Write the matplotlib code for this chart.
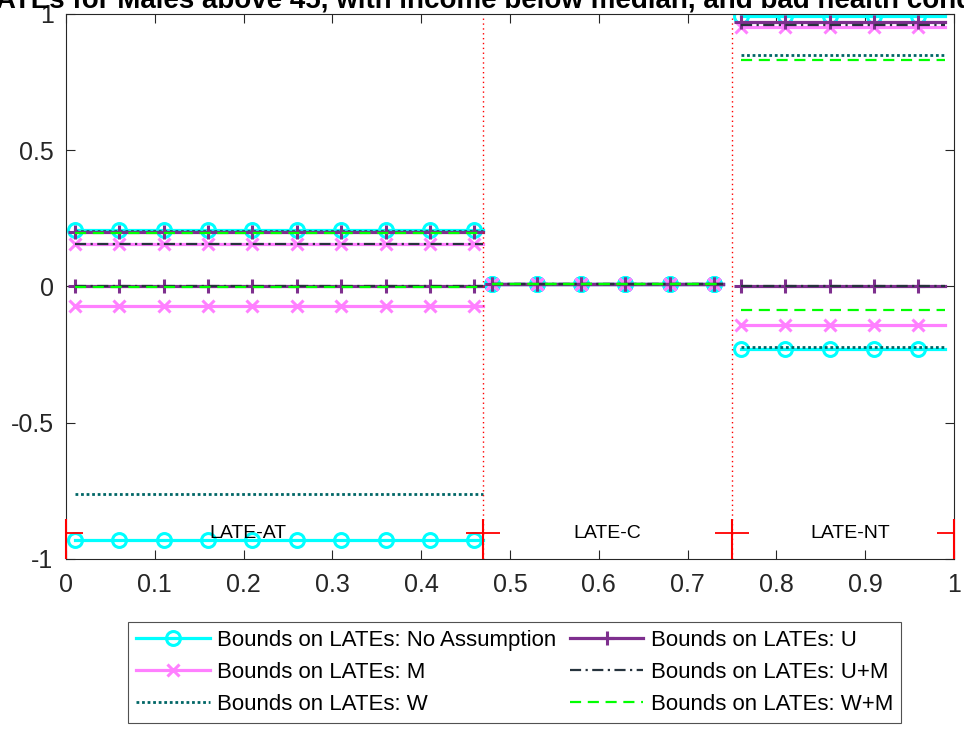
import numpy as np
import matplotlib.pyplot as plt

plt.rcParams['font.family'] = ['Liberation Sans', 'DejaVu Sans']

# regions of the x axis (complier types)
regions = ["LATE-AT", "LATE-C", "LATE-NT"]
reg_start = [0.01, 0.48, 0.76]
reg_end = [0.47, 0.74, 0.99]
label_x = [0.205, 0.61, 0.883]
dividers = [0.0, 0.47, 0.75, 1.0]

# lower / upper bounds per region (AT, C, NT)
noassump_lo = [-0.93, 0.01, -0.23]
noassump_hi = [0.207, 0.01, 0.99]
m_lo = [-0.072, 0.01, -0.14]
m_hi = [0.157, 0.01, 0.953]
w_lo = [-0.76, 0.01, -0.222]
w_hi = [0.203, 0.01, 0.85]
u_lo = [0.0, 0.01, 0.0]
u_hi = [0.201, 0.01, 0.97]
um_lo = [0.0, 0.01, 0.0]
um_hi = [0.156, 0.01, 0.96]
wm_lo = [-0.004, 0.01, -0.085]
wm_hi = [0.197, 0.01, 0.829]

series = [
    ("Bounds on LATEs: No Assumption", noassump_lo, noassump_hi,
     dict(color='#00FFFF', ls='-', lw=2.3, marker='o', ms=10, mfc='none', mew=2.2)),
    ("Bounds on LATEs: M", m_lo, m_hi,
     dict(color='#FF80FF', ls='-', lw=2.3, marker='x', ms=8, mew=2.2)),
    ("Bounds on LATEs: W", w_lo, w_hi,
     dict(color='#006666', ls=(0, (1, 1)), lw=2.0)),
    ("Bounds on LATEs: U", u_lo, u_hi,
     dict(color='#7E2F8E', ls='-', lw=2.3, marker='+', ms=10, mew=2.2)),
    ("Bounds on LATEs: U+M", um_lo, um_hi,
     dict(color='#26333D', ls=(0, (5, 2, 1, 2)), lw=1.6)),
    ("Bounds on LATEs: W+M", wm_lo, wm_hi,
     dict(color='#00FF00', ls=(0, (5, 3)), lw=1.6)),
]

fig = plt.figure(figsize=(9.64, 7.29), dpi=100)
ax = fig.add_axes([0.0685, 0.2332, 0.921, 0.748])

for name, lo, hi, st in series:
    for k in range(len(regions)):
        xs = np.arange(reg_start[k], reg_end[k] + 0.005, 0.01)
        for vals in (lo, hi):
            ys = np.full(len(xs), vals[k])
            lab = name if (k == 0 and vals is lo) else None
            ax.plot(xs, ys, markevery=5, label=lab, **st)

# region boundaries
for d in dividers[1:3]:
    ax.axvline(d, color='red', ls=(0, (1, 2.5)), lw=1.0)
ax.plot(dividers, [-0.905] * len(dividers), ls='none', marker='_', ms=25,
        mew=1.3, color='red')
ax.vlines(dividers, -1.0, -0.855, color='red', lw=1.5, zorder=3, clip_on=False)

for lx, txt in zip(label_x, regions):
    ax.text(lx, -0.905, txt, ha='center', va='center', fontsize=14, color='black')

ax.set_xlim(0, 1)
ax.set_ylim(-1, 1)
ax.set_xticks(np.arange(0, 1.01, 0.1))
ax.set_xticklabels(["0", "0.1", "0.2", "0.3", "0.4", "0.5", "0.6", "0.7", "0.8", "0.9", "1"])
ax.set_yticks([-1, -0.5, 0, 0.5, 1])
ax.set_yticklabels(["-1", "-0.5", "0", "0.5", "1"])
ax.tick_params(direction='in', length=6.5, top=True, right=True, labelsize=18,
               colors='#262626', width=0.8)
ax.tick_params(axis='y', pad=9)
ax.tick_params(axis='x', pad=10)
for sp in ax.spines.values():
    sp.set_color('#262626')
    sp.set_linewidth(0.8)

fig.text(0.445, 1 - 8 / 729, "Bounds on LATEs for Males above 45, with income below median, and bad health condition",
         ha='center', va='baseline', fontsize=20, fontweight='bold')

leg = fig.legend(loc='upper center', bbox_to_anchor=(0.534, 0.162), ncol=2,
                 fontsize=16, frameon=True, fancybox=False, edgecolor='#262626',
                 handlelength=3.3, columnspacing=0.6, handletextpad=0.35,
                 borderpad=0.35, labelspacing=0.5)
leg.get_frame().set_linewidth(0.8)

fig.savefig("out.png", dpi=100)
